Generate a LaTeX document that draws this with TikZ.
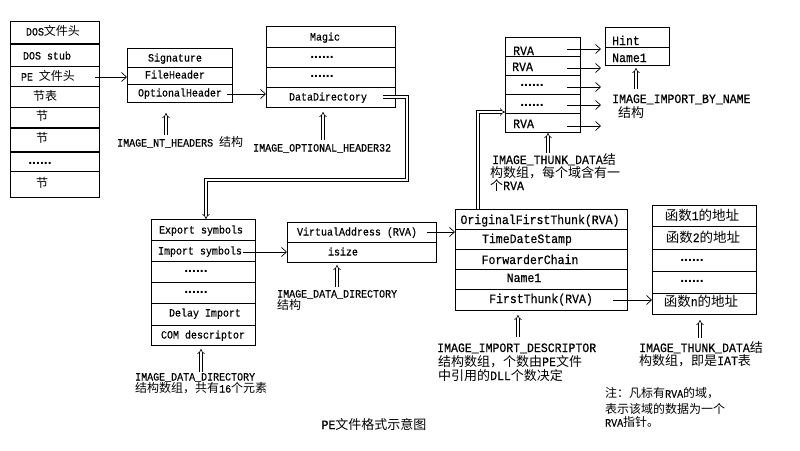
\documentclass[tikz,border=0pt]{standalone}
\usepackage{fontspec}
\setmainfont{Liberation Mono}[FakeStretch=0.9,FakeBold=0.4]
\newfontfamily\cjk{Noto Sans CJK SC}
\newfontfamily\dotfont{Liberation Sans}
\usetikzlibrary{arrows.meta,calc}
\def\zhs{12pt}
\newcommand\zh[1]{{\cjk\fontsize{\zhs}{\zhs}\selectfont #1}}
\newcommand\fsml{\fontsize{11.1}{12}\selectfont\def\zhs{12pt}}
\newcommand\flrg{\fontsize{12.8}{14}\selectfont\def\zhs{13pt}}
\newcommand\fiat{\fontsize{12.8}{14}\selectfont\def\zhs{13.5pt}}
\newcommand\ddd{{\dotfont\bfseries\fontsize{14}{14}\selectfont ......}}
\tikzset{
  cell/.style={draw, line width=0.8pt, inner sep=0pt, outer sep=0pt, anchor=north west},
  tx/.style={inner sep=0pt, font=\fsml, text height=7pt, text depth=0pt},
  txl/.style={inner sep=0pt, font=\flrg, text height=8pt, text depth=0pt},
  txi/.style={inner sep=0pt, font=\fiat, text height=8pt, text depth=0pt},
  arr/.style={line width=0.7pt, -{Straight Barb[length=5pt,width=9pt]}},
  dbl/.style={double, double distance=2pt, line width=0.6pt, -{Implies}},
  dblc/.style={double, double distance=2pt, line width=0.6pt, -{Implies}},
  thickline/.style={line width=1.8pt},
}
\begin{document}
\begin{tikzpicture}[x=1pt,y=-1pt]
\fill[white] (0,0) rectangle (800,450);
\useasboundingbox (0,0) rectangle (800,450);

% ---------- DOS box ----------
\node[cell,minimum width=89pt,minimum height=23pt] (dos1) at (10,21) {};
\node[cell,minimum width=89pt,minimum height=22pt] (dos2) at (10,44) {};
\node[cell,minimum width=89pt,minimum height=20pt] (dos3) at (10,66) {};
\node[cell,minimum width=89pt,minimum height=21pt] (dos4) at (10,86) {};
\node[cell,minimum width=89pt,minimum height=21pt] (dos5) at (10,107) {};
\node[cell,minimum width=89pt,minimum height=24pt] (dos6) at (10,128) {};
\node[cell,minimum width=89pt,minimum height=19pt] (dos7) at (10,152) {};
\node[cell,minimum width=89pt,minimum height=26pt] (dos8) at (10,171) {};
\draw[thickline] (dos1.south west) -- (dos1.south east);
\draw[thickline] (dos5.south west) -- (dos5.south east);
\draw[thickline] (dos6.south west) -- (dos6.south east);
\node[tx] (tdos1) at (53,32) {DOS\zh{文件头}};
\node[tx] (tdos2) at (47,56) {DOS stub};
\node[tx] (tdos3) at (48,77) {PE \zh{文件头}};
\node[tx] (tdos4) at (45,97) {\zh{节表}};
\node[tx] (tdos5) at (42,117) {\zh{节}};
\node[tx] (tdos6) at (42,139) {\zh{节}};
\node[tx] (tdos7) at (40,161) {\ddd};
\node[tx] (tdos8) at (42,184) {\zh{节}};

% ---------- NT headers ----------
\node[cell,minimum width=105pt,minimum height=19pt] (nt1) at (127,48) {};
\node[cell,minimum width=105pt,minimum height=17pt] (nt2) at (127,67) {};
\node[cell,minimum width=105pt,minimum height=18pt] (nt3) at (127,84) {};
\node[tx] (tnt1) at (175,58) {Signature};
\node[tx] (tnt2) at (175,75) {FileHeader};
\node[tx] (tnt3) at (180,93) {OptionalHeader};
\node[tx,anchor=west] (lnt) at (117,143) {IMAGE\_NT\_HEADERS \zh{结构}};

% ---------- Optional header ----------
\node[cell,minimum width=129pt,minimum height=21pt] (op1) at (266,26) {};
\node[cell,minimum width=129pt,minimum height=20pt] (op2) at (266,47) {};
\node[cell,minimum width=129pt,minimum height=20pt] (op3) at (266,67) {};
\node[cell,minimum width=129pt,minimum height=20pt] (op4) at (266,87) {};
\node[tx] (top1) at (325,37) {Magic};
\node[tx] (top2) at (322,55) {\ddd};
\node[tx] (top3) at (322,74) {\ddd};
\node[tx] (top4) at (328,97) {DataDirectory};
\node[tx,anchor=west] (lop) at (253,148) {IMAGE\_OPTIONAL\_HEADER32};

% ---------- Data directory array ----------
\node[cell,minimum width=104pt,minimum height=21pt] (dd1) at (151,219) {};
\node[cell,minimum width=104pt,minimum height=21pt] (dd2) at (151,240) {};
\node[cell,minimum width=104pt,minimum height=21pt] (dd3) at (151,261) {};
\node[cell,minimum width=104pt,minimum height=21pt] (dd4) at (151,282) {};
\node[cell,minimum width=104pt,minimum height=22pt] (dd5) at (151,303) {};
\node[cell,minimum width=104pt,minimum height=20pt] (dd6) at (151,325) {};
\node[tx] (tdd1) at (201,230) {Export symbols};
\node[tx] (tdd2) at (200,251) {Import symbols};
\node[tx] (tdd3) at (196,269) {\ddd};
\node[tx] (tdd4) at (196,290) {\ddd};
\node[tx] (tdd5) at (205,313) {Delay Import};
\node[tx] (tdd6) at (203,335) {COM descriptor};
\node[tx,anchor=west] (ldd1) at (135,377) {IMAGE\_DATA\_DIRECTORY};
\node[tx,anchor=west] (ldd2) at (135,389) {\zh{结构数组，共有}16\zh{个元素}};

% ---------- Data directory entry ----------
\node[cell,minimum width=149pt,minimum height=20pt] (va1) at (287,222) {};
\node[cell,minimum width=149pt,minimum height=20pt] (va2) at (287,242) {};
\node[tx] (tva1) at (357,232) {VirtualAddress (RVA)};
\node[tx] (tva2) at (343,252) {isize};
\node[tx,anchor=west] (lva1) at (277,294) {IMAGE\_DATA\_DIRECTORY};
\node[tx,anchor=west] (lva2) at (277,306) {\zh{结构}};

% ---------- Import descriptor ----------
\node[cell,minimum width=172pt,minimum height=20pt] (id1) at (455,209) {};
\node[cell,minimum width=172pt,minimum height=20pt] (id2) at (455,229) {};
\node[cell,minimum width=172pt,minimum height=20pt] (id3) at (455,249) {};
\node[cell,minimum width=172pt,minimum height=20pt] (id4) at (455,269) {};
\node[cell,minimum width=172pt,minimum height=21pt] (id5) at (455,289) {};
\node[txl] (tid1) at (540,220) {OriginalFirstThunk(RVA)};
\node[txl] (tid2) at (527,239) {TimeDateStamp};
\node[txl] (tid3) at (530,260) {ForwarderChain};
\node[txl] (tid4) at (524,278) {Name1};
\node[txl] (tid5) at (541,299) {FirstThunk(RVA)};
\node[txl,anchor=west] (lid1) at (437,348) {IMAGE\_IMPORT\_DESCRIPTOR};
\node[txl,anchor=west] (lid2) at (438,362) {\zh{结构数组，个数由}PE\zh{文件}};
\node[txl,anchor=west] (lid3) at (438,376) {\zh{中引用的}DLL\zh{个数决定}};

% ---------- IAT ----------
\node[cell,minimum width=104pt,minimum height=21pt] (iat1) at (652,205) {};
\node[cell,minimum width=104pt,minimum height=23pt] (iat2) at (652,226) {};
\node[cell,minimum width=104pt,minimum height=22pt] (iat3) at (652,249) {};
\node[cell,minimum width=104pt,minimum height=22pt] (iat4) at (652,271) {};
\node[cell,minimum width=104pt,minimum height=21pt] (iat5) at (652,293) {};
\node[txi] (tiat1) at (702,216) {\zh{函数}1\zh{的地址}};
\node[txi] (tiat2) at (703,238) {\zh{函数}2\zh{的地址}};
\node[tx] (tiat3) at (692,258) {\ddd};
\node[tx] (tiat4) at (692,279) {\ddd};
\node[txi] (tiat5) at (701,302) {\zh{函数}n\zh{的地址}};
\node[txl,anchor=west] (liat1) at (639,348) {IMAGE\_THUNK\_DATA\zh{结}};
\node[txl,anchor=west] (liat2) at (639,361) {\zh{构数组，即是}IAT\zh{表}};

% ---------- Thunk array ----------
\node[cell,minimum width=75pt,minimum height=19pt] (th1) at (505,37) {};
\node[cell,minimum width=75pt,minimum height=19pt] (th2) at (505,56) {};
\node[cell,minimum width=75pt,minimum height=19pt] (th3) at (505,75) {};
\node[cell,minimum width=75pt,minimum height=19pt] (th4) at (505,94) {};
\node[cell,minimum width=75pt,minimum height=19pt] (th5) at (505,113) {};
\node[txl,anchor=west] (tth1) at (513,51) {RVA};
\node[txl,anchor=west] (tth2) at (512,67) {RVA};
\node[tx] (tth3) at (532,83) {\ddd};
\node[tx] (tth4) at (532,103) {\ddd};
\node[txl,anchor=west] (tth5) at (513,124) {RVA};
\node[txl,anchor=west] (lth1) at (492,160) {IMAGE\_THUNK\_DATA\zh{结}};
\node[txl,anchor=west] (lth2) at (490,173) {\zh{构数组，每个域含有一}};
\node[txl,anchor=west] (lth3) at (490,186) {\zh{个}RVA};

% ---------- Hint / Name ----------
\node[cell,minimum width=64pt,minimum height=20pt] (hn1) at (605,27) {};
\node[cell,minimum width=64pt,minimum height=18pt] (hn2) at (605,47) {};
\node[txl,anchor=west] (thn1) at (612,41) {Hint};
\node[txl,anchor=west] (thn2) at (612,58) {Name1};
\node[txl,anchor=west] (lhn1) at (612,99) {IMAGE\_IMPORT\_BY\_NAME};
\node[txl,anchor=west] (lhn2) at (618,113) {\zh{结构}};

% ---------- note and title ----------
\node[tx,anchor=west] (note1) at (605,394) {\zh{注：凡标有}RVA\zh{的域，}};
\node[tx,anchor=west] (note2) at (605,410) {\zh{表示该域的数据为一个}};
\node[tx,anchor=west] (note3) at (605,423) {RVA\zh{指针。}};
\node[txl] (title) at (374,425) {PE\zh{文件格式示意图}};

% ---------- single arrows ----------
\coordinate (peout) at (95,77);
\draw[arr] (peout) -- (peout -| nt2.west);
\coordinate (ohout) at (227,94);
\draw[arr] (ohout) -- (ohout -| op4.west);
\coordinate (isout) at (243,252);
\draw[arr] (isout) -- (isout -| va2.west);
\coordinate (vaout) at (427,232);
\draw[arr] (vaout) -- (vaout -| id1.west);
\coordinate (ftout) at (613,300);
\draw[arr] (ftout) -- (ftout -| iat5.west);
\foreach \i/\y in {1/49,2/68,3/87,4/105,5/126}{
  \coordinate (ts\i) at (567,\y);
  \coordinate (te\i) at (601,\y);
  \draw[arr] (ts\i) -- (te\i);
}

% ---------- double connectors ----------
\coordinate (ddout) at (383,97);
\coordinate (ddturn) at (407,180);
\coordinate (ddin) at (206,219);
\draw[dblc] (ddout) -| (ddturn) -| (ddin);
\coordinate (oftbase) at (478,209);
\coordinate (oftin) at (505,112);
\draw[dblc] (oftbase) |- (oftin);

% ---------- up double arrows ----------
\foreach \n/\x/\a/\b in {nt/166/135/113, op/323/140/112, dd/201/372/349, va/337/287/265,
    id/518/337/315, iat/700/338/320, th/548/153/133, hn/636/89/68}{
  \coordinate (\n T) at (\x,\a);
  \coordinate (\n H) at (\x,\b);
  \draw[dbl] (\n T) -- (\n H);
}
\end{tikzpicture}
\end{document}
